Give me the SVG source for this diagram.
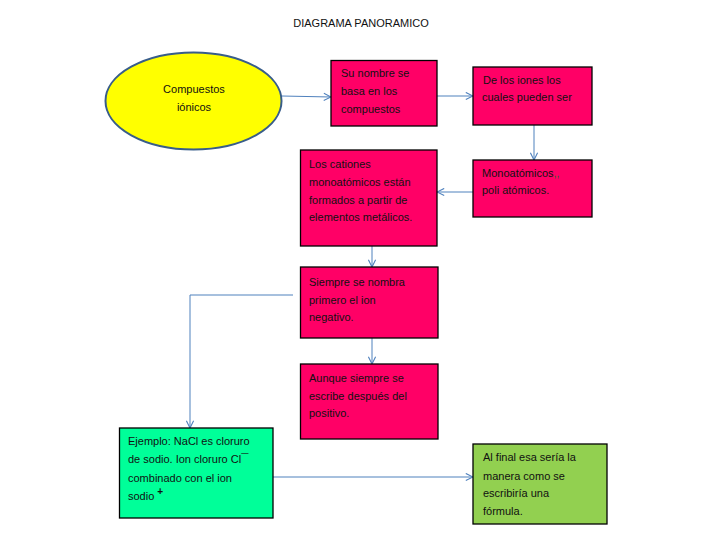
<svg xmlns="http://www.w3.org/2000/svg" width="722" height="538" viewBox="0 0 722 538">
<defs>
<style>
text{font-family:"Liberation Sans",Arial,sans-serif;font-size:11px;fill:#111;}
.title{font-size:11px;}
.box{stroke:#000;stroke-width:1.3;}
.mag{fill:#FF0066;}
.conn{fill:none;stroke:#4F81BD;stroke-width:1;}
</style>
<marker id="arr" viewBox="0 0 10 10" refX="9" refY="5" markerWidth="9" markerHeight="9" markerUnits="userSpaceOnUse" orient="auto">
<path d="M1,1 L9,5 L1,9" fill="none" stroke="#4F81BD" stroke-width="1.2"/>
</marker>
</defs>
<rect width="722" height="538" fill="#fff"/>
<text class="title" x="361" y="27" text-anchor="middle">DIAGRAMA PANORAMICO</text>

<g id="connectors">
<line class="conn" x1="282" y1="96" x2="331" y2="97" marker-end="url(#arr)"/>
<line class="conn" x1="437" y1="96" x2="473" y2="96" marker-end="url(#arr)"/>
<line class="conn" x1="534" y1="125" x2="534" y2="160" marker-end="url(#arr)"/>
<line class="conn" x1="473" y1="192" x2="437" y2="192" marker-end="url(#arr)"/>
<line class="conn" x1="372" y1="246" x2="372" y2="267" marker-end="url(#arr)"/>
<line class="conn" x1="372" y1="338" x2="372" y2="364" marker-end="url(#arr)"/>
<polyline class="conn" points="293,295 190,295 190,428" marker-end="url(#arr)"/>
<line class="conn" x1="273" y1="477" x2="473" y2="477" marker-end="url(#arr)"/>
</g>

<g id="n-compuestos">
<ellipse cx="193.5" cy="101" rx="88" ry="48.5" fill="#FFFF00" stroke="#385D8A" stroke-width="2"/>
<text x="194" y="93" text-anchor="middle">Compuestos</text>
<text x="194" y="111" text-anchor="middle">iónicos</text>
</g>

<g id="n-nombre">
<rect class="box mag" x="331" y="60.5" width="106" height="65.5"/>
<text x="341" y="77">Su nombre se</text>
<text x="341" y="95">basa en  los</text>
<text x="341" y="113">compuestos</text>
</g>

<g id="n-iones">
<rect class="box mag" x="473" y="67" width="119" height="58"/>
<text x="483" y="84"> De los iones los</text>
<text x="482" y="101">cuales pueden ser</text>
</g>

<g id="n-mono">
<rect class="box mag" x="473" y="160" width="119" height="57"/>
<text x="482" y="177">Monoatómicos<tspan fill="#2a6a2a">,,</tspan></text>
<text x="482" y="194">poli atómicos.</text>
</g>

<g id="n-cationes">
<rect class="box mag" x="300.5" y="150" width="136.5" height="96"/>
<text x="309" y="168"> Los cationes</text>
<text x="309" y="186">monoatómicos están</text>
<text x="309" y="204">formados a partir de</text>
<text x="309" y="221">elementos metálicos.</text>
</g>

<g id="n-siempre">
<rect class="box mag" x="300.5" y="267" width="137.5" height="71"/>
<text x="309" y="286">Siempre se nombra</text>
<text x="309" y="304">primero el ion</text>
<text x="309" y="321">negativo.</text>
</g>

<g id="n-aunque">
<rect class="box mag" x="300.5" y="364" width="137.5" height="75"/>
<text x="309" y="382">Aunque siempre se</text>
<text x="309" y="400">escribe después del</text>
<text x="309" y="417">positivo.</text>
</g>

<g id="n-ejemplo">
<rect class="box" x="119.5" y="428" width="153.5" height="90" fill="#00FF99"/>
<text x="128" y="445">Ejemplo: NaCl es cloruro</text>
<text x="128" y="463">de sodio.  Ion cloruro Cl<tspan font-size="13">¯</tspan></text>
<text x="128" y="482">combinado con el ion</text>
<text x="128" y="500">sodio <tspan dy="-5" font-size="10" font-weight="bold">+</tspan></text>
</g>

<g id="n-final">
<rect class="box" x="473" y="444" width="134" height="80" fill="#92D050"/>
<text x="483" y="461">Al final esa sería la</text>
<text x="483" y="480">manera como se</text>
<text x="483" y="497">escribiría una</text>
<text x="483" y="515">fórmula.</text>
</g>
</svg>
